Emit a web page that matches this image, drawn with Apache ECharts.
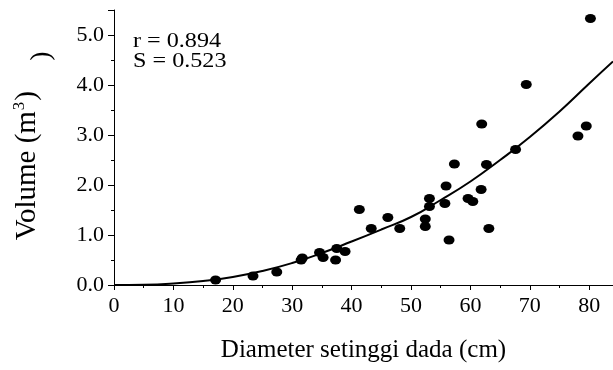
<!DOCTYPE html>
<html>
<head>
<meta charset="utf-8">
<script src="https://cdn.jsdelivr.net/npm/echarts@6/dist/echarts.min.js"></script>
<style>html,body{margin:0;padding:0;background:#fff}#c{width:613px;height:370px}</style>
</head>
<body>
<div id="c"></div>
<script>
// Observed points: diameter (cm), volume (m3)
var diameter = [17.1, 23.4, 27.4, 31.5, 31.7, 34.6, 35.2, 37.3, 37.5, 38.9, 41.3, 43.3, 46.1, 48.1, 52.4, 52.4, 53.1, 53.1, 55.9, 55.7, 56.4, 57.3, 59.6, 60.4, 61.8, 61.9, 62.7, 63.1, 67.6, 69.4, 78.1, 79.5, 80.2];
var volume   = [0.10, 0.18, 0.26, 0.50, 0.54, 0.65, 0.55, 0.50, 0.73, 0.67, 1.51, 1.13, 1.35, 1.13, 1.32, 1.17, 1.73, 1.57, 1.98, 1.63, 0.90, 2.42, 1.73, 1.67, 1.91, 3.22, 2.41, 1.13, 2.71, 4.01, 2.98, 3.18, 5.33];
// Fitted curve
var curveX = [0, 5, 10, 15, 20, 25, 30, 35, 40, 45, 50, 55, 60, 65, 70, 75, 80, 84];
var curveY = [0, 0.005, 0.03, 0.08, 0.16, 0.28, 0.44, 0.64, 0.87, 1.11, 1.36, 1.70, 2.07, 2.50, 2.96, 3.47, 4.03, 4.47];
var xTicks = [0, 10, 20, 30, 40, 50, 60, 70, 80];
var yTicks = [0.0, 1.0, 2.0, 3.0, 4.0, 5.0];
var statsText = ['r = 0.894', 'S = 0.523'];

var pts = diameter.map(function (d, i) { return [d, volume[i]]; });
var curve = curveX.map(function (d, i) { return [d, curveY[i]]; });
var font = '"Liberation Serif", "DejaVu Serif", serif';

var chart = echarts.init(document.getElementById('c'), null, {renderer: 'canvas'});
chart.setOption({
  animation: false,
  backgroundColor: '#fff',
  grid: {left: 114, right: 0, top: 10, bottom: 85},
  xAxis: {
    type: 'value', min: 0, max: 84, interval: 10,
    name: 'Diameter setinggi dada (cm)', nameLocation: 'middle', nameGap: 53,
    nameTextStyle: {fontFamily: font, fontSize: 25, color: '#000'},
    axisLine: {show: true, lineStyle: {color: '#000', width: 1}},
    axisTick: {show: true, length: 5, lineStyle: {color: '#000'}},
    minorTick: {show: true, splitNumber: 2, length: 3, lineStyle: {color: '#000'}},
    splitLine: {show: false},
    axisLabel: {
      fontFamily: font, fontSize: 22, color: '#000', margin: 10, showMaxLabel: false,
      formatter: function (v) { return xTicks.indexOf(v) >= 0 ? String(v) : ''; }
    }
  },
  yAxis: {
    type: 'value', min: 0, max: 5.5, interval: 1,
    name: '{a|Volume (m}{s|3}{a|)     }', nameLocation: 'middle', nameGap: 71,
    nameTextStyle: {
      fontFamily: font, fontSize: 29, color: '#000',
      rich: {
        a: {fontFamily: font, fontSize: 29, color: '#000'},
        s: {fontFamily: font, fontSize: 17, color: '#000', verticalAlign: 'top', padding: [0, 1, 15, 1]}
      }
    },
    axisLine: {show: true, lineStyle: {color: '#000', width: 1}},
    axisTick: {show: true, length: 6, lineStyle: {color: '#000'}},
    minorTick: {show: true, splitNumber: 2, length: 3, lineStyle: {color: '#000'}},
    splitLine: {show: false},
    axisLabel: {
      fontFamily: font, fontSize: 22, color: '#000', margin: 10, showMaxLabel: false,
      formatter: function (v) { return yTicks.indexOf(v) >= 0 ? v.toFixed(1) : ''; }
    }
  },
  series: [
    {
      type: 'line', data: curve, smooth: true, showSymbol: false, symbol: 'none',
      lineStyle: {color: '#000', width: 2}, z: 2
    },
    {
      type: 'scatter', data: pts, symbol: 'circle', symbolSize: [11, 9],
      itemStyle: {color: '#000', opacity: 1}, z: 3
    }
  ],
  graphic: [
    {type: 'text', x: 133, y: 31, scaleX: 1.15, style: {text: statsText.join('\n'), font: '21px ' + font, fill: '#000', lineHeight: 20}},
    {type: 'text', x: 56, y: 56, rotation: Math.PI / 2, style: {text: ')', font: '28px ' + font, fill: '#000', align: 'center', verticalAlign: 'bottom'}}
  ]
});
</script>
</body>
</html>
